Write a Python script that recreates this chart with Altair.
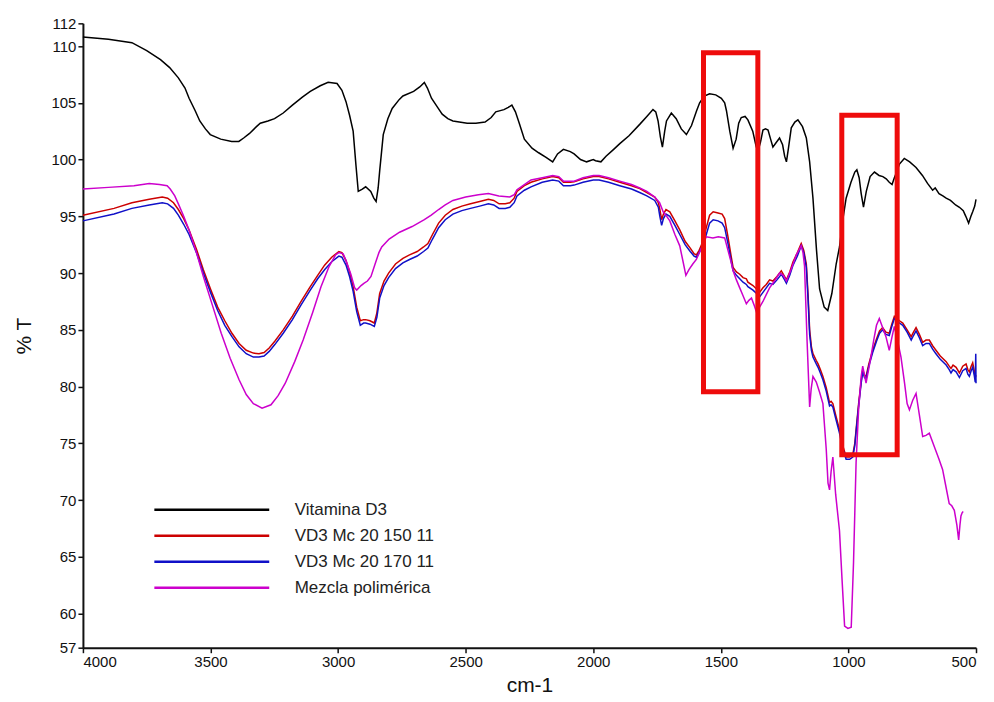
import altair as alt
import pandas as pd

# ---------------- data ----------------
series_names = ["Vitamina D3", "VD3 Mc 20 150 11", "VD3 Mc 20 170 11", "Mezcla polimérica"]
series_colors = ["#000000", "#cc0000", "#1010c8", "#cc00cc"]

wn_vd3 = [4000, 3900, 3808, 3750, 3696, 3660, 3626, 3600, 3584, 3560, 3542, 3520, 3501, 3460, 3417, 3389,
          3370, 3347, 3320, 3305, 3275, 3249, 3215, 3179, 3140, 3109, 3070, 3039, 3004, 2985, 2969, 2955,
          2941, 2930, 2921, 2905, 2892, 2872, 2860, 2851, 2843, 2837, 2823, 2805, 2788, 2760, 2746, 2704,
          2680, 2662, 2650, 2634, 2610, 2592, 2570, 2550, 2494, 2460, 2424, 2400, 2382, 2350, 2333, 2319,
          2305, 2290, 2270, 2240, 2214, 2185, 2159, 2140, 2117, 2090, 2075, 2050, 2026, 2000, 1991, 1970,
          1950, 1920, 1896, 1860, 1818, 1790, 1766, 1755, 1746, 1737, 1729, 1720, 1713, 1694, 1675, 1655,
          1635, 1615, 1595, 1583, 1565, 1544, 1520, 1498, 1485, 1478, 1465, 1452, 1440, 1430, 1420, 1405,
          1394, 1375, 1362, 1355, 1345, 1335, 1325, 1315, 1305, 1296, 1283, 1270, 1258, 1250, 1243, 1235,
          1224, 1210, 1198, 1180, 1165, 1152, 1139, 1125, 1113, 1095, 1081, 1065, 1048, 1035, 1020, 1009,
          990, 975, 967, 958, 950, 941, 930, 915, 898, 880, 865, 852, 840, 829, 820, 813,
          800, 781, 760, 735, 710, 690, 670, 660, 645, 630, 617, 600, 580, 565, 550, 540,
          529, 520, 513, 505, 500]
t_vd3 = [110.8, 110.6, 110.3, 109.6, 108.8, 108.1, 107.2, 106.3, 105.4, 104.3, 103.4, 102.7, 102.2, 101.8, 101.6, 101.6,
         101.9, 102.3, 102.9, 103.2, 103.4, 103.6, 104.1, 104.8, 105.5, 106.0, 106.5, 106.8, 106.7, 106.1, 105.1, 103.9,
         102.5, 99.5, 97.2, 97.4, 97.6, 97.2, 96.6, 96.3, 97.5, 99.0, 102.2, 103.6, 104.5, 105.3, 105.6, 106.0,
         106.4, 106.8, 106.3, 105.4, 104.6, 104.0, 103.6, 103.4, 103.2, 103.2, 103.3, 103.7, 104.2, 104.4, 104.6, 104.8,
         104.2, 103.2, 101.8, 101.0, 100.6, 100.2, 99.8, 100.5, 100.9, 100.7, 100.5, 100.0, 99.8, 100.0, 99.9, 99.8,
         100.3, 100.9, 101.4, 102.1, 103.1, 103.8, 104.4, 104.2, 103.4, 102.0, 101.1, 102.5, 103.4, 104.1, 103.6, 102.7,
         102.2, 103.0, 104.3, 105.0, 105.6, 105.8, 105.7, 105.4, 105.0, 104.3, 102.5, 101.0, 101.8, 103.2, 103.7, 103.8,
         103.5, 102.5, 101.2, 100.7, 101.5, 102.6, 102.7, 102.6, 101.8, 101.1, 101.5, 101.9, 101.3, 100.3, 99.8, 101.0,
         102.8, 103.3, 103.5, 102.9, 101.9, 99.8, 96.6, 92.0, 88.6, 87.0, 86.7, 88.2, 90.8, 92.3, 95.0, 96.6,
         98.0, 98.9, 99.1, 98.4, 97.0, 95.8, 97.2, 98.5, 98.9, 98.6, 98.5, 98.3, 98.0, 97.8, 98.4, 98.8,
         99.6, 100.1, 99.8, 99.3, 98.6, 97.9, 97.3, 97.5, 97.0, 96.8, 96.6, 96.4, 96.0, 95.8, 95.5, 95.0,
         94.4, 95.0, 95.4, 95.9, 96.5]

wn_150 = [4000, 3878, 3808, 3740, 3689, 3668, 3645, 3626, 3605, 3584, 3555, 3528, 3500, 3472, 3444, 3416,
          3388, 3360, 3332, 3310, 3290, 3270, 3248, 3215, 3179, 3145, 3109, 3080, 3053, 3025, 2997, 2985,
          2969, 2955, 2941, 2927, 2913, 2900, 2892, 2875, 2858, 2848, 2837, 2820, 2802, 2775, 2746, 2720,
          2690, 2665, 2648, 2630, 2606, 2580, 2550, 2515, 2481, 2445, 2411, 2390, 2369, 2345, 2327, 2310,
          2299, 2270, 2244, 2200, 2159, 2135, 2117, 2090, 2075, 2040, 2000, 1977, 1940, 1896, 1850, 1818,
          1790, 1759, 1745, 1739, 1732, 1725, 1715, 1700, 1680, 1661, 1640, 1620, 1605, 1596, 1585, 1570,
          1557, 1544, 1530, 1511, 1495, 1485, 1472, 1459, 1452, 1439, 1426, 1413, 1400, 1394, 1374, 1360,
          1348, 1335, 1322, 1309, 1296, 1280, 1263, 1250, 1243, 1230, 1217, 1200, 1185, 1175, 1165, 1158,
          1152, 1145, 1139, 1126, 1119, 1110, 1100, 1087, 1074, 1068, 1061, 1050, 1035, 1022, 1009, 995,
          983, 975, 970, 960, 950, 944, 937, 931, 920, 905, 890, 878, 866, 853, 840, 830,
          820, 810, 800, 787, 770, 754, 745, 735, 722, 709, 696, 683, 670, 657, 640, 617,
          605, 598, 590, 578, 565, 552, 539, 532, 526, 519, 513, 507, 503, 500]
t_150 = [95.1, 95.7, 96.2, 96.5, 96.7, 96.6, 96.2, 95.6, 94.8, 93.8, 92.1, 90.3, 88.6, 87.0, 85.8, 84.7,
         83.8, 83.2, 82.95, 82.9, 83.0, 83.4, 84.0, 85.0, 86.2, 87.5, 88.8, 89.8, 90.7, 91.4, 91.9, 91.8,
         91.1, 90.1, 88.8, 87.0, 85.8, 85.9, 85.9, 85.8, 85.6, 86.5, 88.2, 89.3, 90.0, 90.8, 91.3, 91.6,
         91.9, 92.3, 92.6, 93.4, 94.4, 95.1, 95.6, 95.9, 96.1, 96.3, 96.5, 96.4, 96.1, 96.1, 96.2, 96.6,
         97.2, 97.7, 98.0, 98.3, 98.5, 98.4, 98.0, 98.0, 98.05, 98.3, 98.5, 98.5, 98.3, 98.0, 97.7, 97.45,
         97.1, 96.7, 96.2, 95.6, 94.7, 95.2, 95.6, 95.4, 94.6, 93.8, 92.8, 92.2, 91.7, 91.6, 92.0, 92.8,
         94.0, 95.1, 95.4, 95.3, 95.2, 94.8, 93.2, 91.4, 90.5, 90.1, 89.9, 89.6, 89.5, 89.2, 88.9, 88.6,
         88.3, 88.7, 89.0, 89.4, 89.3, 89.7, 90.2, 89.7, 89.4, 90.1, 91.0, 91.8, 92.6, 92.0, 90.8, 88.0,
         85.0, 83.5, 82.9, 82.3, 82.0, 81.5, 80.9, 79.9, 78.6, 78.7, 78.5, 77.5, 76.2, 74.8, 73.8, 73.8,
         74.0, 75.0, 76.2, 78.5, 80.5, 81.5, 81.0, 80.9, 82.0, 83.2, 84.2, 84.9, 85.2, 84.8, 84.7, 85.5,
         86.2, 86.0, 85.8, 85.6, 85.0, 84.4, 84.8, 85.2, 84.6, 83.9, 84.1, 84.1, 83.6, 83.2, 82.7, 82.2,
         81.8, 81.6, 81.9, 81.7, 81.2, 81.8, 82.0, 81.5, 81.3, 81.8, 82.1, 81.4, 80.8, 81.0]

wn_170 = [4000, 3878, 3808, 3740, 3689, 3668, 3645, 3626, 3605, 3584, 3555, 3528, 3500, 3472, 3444, 3416,
          3388, 3360, 3332, 3310, 3290, 3270, 3248, 3215, 3179, 3145, 3109, 3080, 3053, 3025, 2997, 2985,
          2969, 2955, 2941, 2927, 2913, 2900, 2892, 2875, 2858, 2848, 2837, 2820, 2802, 2775, 2746, 2720,
          2690, 2665, 2648, 2630, 2606, 2580, 2550, 2515, 2481, 2445, 2411, 2390, 2369, 2345, 2327, 2310,
          2299, 2270, 2244, 2200, 2159, 2135, 2117, 2090, 2075, 2040, 2000, 1977, 1940, 1896, 1850, 1818,
          1790, 1759, 1745, 1739, 1732, 1725, 1715, 1700, 1680, 1661, 1640, 1620, 1605, 1596, 1585, 1570,
          1557, 1544, 1530, 1511, 1495, 1485, 1472, 1459, 1452, 1439, 1426, 1413, 1400, 1394, 1374, 1360,
          1348, 1335, 1322, 1309, 1296, 1280, 1263, 1250, 1243, 1230, 1217, 1200, 1185, 1175, 1165, 1158,
          1152, 1145, 1139, 1126, 1119, 1110, 1100, 1087, 1074, 1068, 1061, 1050, 1035, 1022, 1009, 995,
          983, 975, 970, 960, 950, 944, 937, 931, 920, 905, 890, 878, 866, 853, 840, 830,
          820, 810, 800, 787, 770, 754, 745, 735, 722, 709, 696, 683, 670, 657, 640, 617,
          605, 598, 590, 578, 565, 552, 539, 532, 526, 519, 513, 507, 503, 501, 500]
t_170 = [94.6, 95.2, 95.7, 96.0, 96.2, 96.1, 95.7, 95.1, 94.3, 93.4, 91.8, 90.0, 88.3, 86.7, 85.4, 84.4,
         83.5, 82.9, 82.6, 82.6, 82.7, 83.1, 83.7, 84.7, 85.9, 87.2, 88.5, 89.5, 90.3, 91.0, 91.5, 91.4,
         90.7, 89.7, 88.4, 86.6, 85.4, 85.6, 85.6, 85.5, 85.3, 86.1, 87.8, 88.9, 89.6, 90.4, 90.9, 91.2,
         91.5, 91.9, 92.2, 93.0, 94.0, 94.7, 95.2, 95.5, 95.7, 95.9, 96.1, 96.0, 95.7, 95.7, 95.8, 96.2,
         96.8, 97.3, 97.6, 98.0, 98.2, 98.1, 97.7, 97.7, 97.75, 98.0, 98.2, 98.2, 98.0, 97.7, 97.4, 97.1,
         96.8, 96.4, 95.8, 95.0, 94.2, 94.8, 95.2, 95.0, 94.2, 93.4, 92.5, 91.9, 91.5, 91.4, 91.8, 92.5,
         93.4, 94.4, 94.7, 94.6, 94.4, 94.0, 92.6, 91.0, 90.2, 89.8, 89.5, 89.2, 89.0, 88.8, 88.5, 88.2,
         87.9, 88.3, 88.7, 89.1, 89.0, 89.4, 89.9, 89.4, 89.1, 89.8, 90.7, 91.5, 92.4, 91.8, 90.5, 87.6,
         84.6, 83.2, 82.6, 82.0, 81.7, 81.2, 80.6, 79.6, 78.3, 78.4, 78.2, 77.2, 75.9, 74.5, 73.6, 73.6,
         73.8, 74.8, 76.0, 78.3, 80.3, 81.3, 80.8, 80.7, 81.8, 83.0, 84.0, 84.7, 85.0, 84.6, 84.5, 85.3,
         86.0, 85.8, 85.6, 85.4, 84.8, 84.1, 84.5, 84.9, 84.3, 83.6, 83.8, 83.8, 83.3, 82.9, 82.4, 81.9,
         81.5, 81.2, 81.5, 81.3, 80.8, 81.4, 81.6, 81.1, 80.9, 81.4, 81.7, 81.0, 80.4, 82.9, 80.3]

wn_mix = [4000, 3900, 3800, 3740, 3700, 3670, 3658, 3640, 3626, 3605, 3584, 3555, 3528, 3493, 3458, 3423,
          3388, 3360, 3332, 3298, 3263, 3235, 3207, 3170, 3137, 3100, 3067, 3035, 3010, 2997, 2980, 2969,
          2950, 2935, 2927, 2910, 2899, 2885, 2871, 2855, 2840, 2829, 2800, 2759, 2710, 2662, 2635, 2606,
          2580, 2550, 2500, 2450, 2411, 2370, 2327, 2310, 2299, 2270, 2244, 2200, 2159, 2135, 2117, 2090,
          2075, 2040, 2000, 1977, 1940, 1896, 1850, 1818, 1790, 1759, 1740, 1726, 1712, 1700, 1680, 1661,
          1648, 1637, 1625, 1610, 1596, 1580, 1557, 1531, 1510, 1485, 1472, 1460, 1452, 1439, 1426, 1413,
          1400, 1390, 1380, 1370, 1361, 1348, 1335, 1322, 1309, 1290, 1270, 1255, 1243, 1225, 1204, 1185,
          1178, 1172, 1162, 1152, 1146, 1139, 1126, 1113, 1100, 1087, 1080, 1074, 1068, 1061, 1050, 1035,
          1025, 1015, 1002, 989, 980, 970, 960, 950, 944, 937, 931, 920, 912, 900, 890, 879,
          866, 853, 840, 830, 820, 807, 794, 780, 770, 761, 748, 735, 722, 709, 696, 683,
          660, 645, 631, 618, 605, 595, 585, 575, 568, 563, 559, 554, 550]
t_mix = [97.4, 97.55, 97.7, 97.9, 97.8, 97.7, 97.4, 96.8, 96.1, 95.0, 93.8, 91.8, 89.7, 87.2, 84.7, 82.5,
         80.6, 79.3, 78.5, 78.1, 78.4, 79.2, 80.3, 82.2, 84.1, 86.5, 88.8, 90.6, 91.6, 91.8, 91.7, 91.1,
         89.9, 88.7, 88.5, 88.9, 89.1, 89.3, 89.7, 90.8, 91.8, 92.3, 93.0, 93.6, 94.1, 94.7, 95.1, 95.6,
         96.0, 96.4, 96.7, 96.9, 97.0, 96.8, 96.7, 96.9, 97.35, 97.8, 98.2, 98.4, 98.6, 98.5, 98.1, 98.1,
         98.1, 98.4, 98.6, 98.6, 98.4, 98.1, 97.8, 97.5, 97.2, 96.7, 96.2, 95.4, 95.0, 94.6, 93.4, 92.4,
         91.0, 89.8, 90.3, 90.8, 91.2, 92.0, 93.2, 93.1, 93.2, 93.1, 92.0, 91.0, 90.2, 89.4, 88.7, 88.0,
         87.3, 87.6, 87.8, 87.2, 86.6, 87.0, 87.5, 88.1, 88.7, 89.3, 90.0, 89.8, 89.3, 90.3, 91.6, 92.4,
         91.8, 90.6, 84.0, 78.2, 79.8, 80.9, 80.4, 79.5, 78.5, 74.5, 71.5, 70.9, 72.5, 73.8, 70.5, 67.3,
         63.0, 58.9, 58.7, 58.8, 64.5, 73.3, 78.0, 80.9, 81.8, 81.0, 80.3, 81.6, 82.6, 84.2, 85.4, 86.0,
         85.2, 84.4, 83.2, 84.3, 85.3, 84.0, 82.6, 80.3, 78.5, 77.95, 78.8, 79.4, 77.5, 75.6, 75.7, 75.9,
         74.5, 73.6, 72.7, 71.2, 69.7, 69.5, 69.1, 67.8, 66.5, 67.8, 68.6, 68.9, 69.0]

# highlighted regions (red boxes)
box_left = [1568, 1026]
box_right = [1355, 809]
box_top = [109.4, 103.9]
box_bottom = [79.55, 74.0]

x_ticks = [4000, 3500, 3000, 2500, 2000, 1500, 1000, 500]
y_ticks = [57, 60, 65, 70, 75, 80, 85, 90, 95, 100, 105, 110, 112]

# ---------------- build tables ----------------
frames = []
for name, wn, tv in [(series_names[0], wn_vd3, t_vd3), (series_names[1], wn_150, t_150),
                     (series_names[2], wn_170, t_170), (series_names[3], wn_mix, t_mix)]:
    frames.append(pd.DataFrame({"wn": wn, "t": tv, "series": name}))
df = pd.concat(frames, ignore_index=True)
df_box = pd.DataFrame({"x1": box_left, "x2": box_right, "y1": box_top, "y2": box_bottom})

FONT = "Liberation Sans, Arial, sans-serif"

xscale = alt.Scale(domain=[500, 4000], reverse=True, nice=False, zero=False)
yscale = alt.Scale(domain=[57, 112], nice=False, zero=False)

lines = alt.Chart(df).mark_line(strokeWidth=1.5).encode(
    x=alt.X("wn:Q", scale=xscale,
            axis=alt.Axis(values=x_ticks, title="cm-1", format="d", grid=False)),
    y=alt.Y("t:Q", scale=yscale,
            axis=alt.Axis(values=y_ticks, title="% T", format="d", grid=False)),
    color=alt.Color("series:N",
                    scale=alt.Scale(domain=series_names, range=series_colors),
                    legend=alt.Legend(title=None, orient="none", legendX=70, legendY=480,
                                      symbolType="stroke", symbolSize=13225,
                                      symbolStrokeWidth=2.5, labelFontSize=17,
                                      labelFont=FONT, labelColor="#222222",
                                      labelOffset=24, clipHeight=14, rowPadding=9,
                                      padding=0)),
    detail="series:N",
    order="wn:Q",
)

boxes = alt.Chart(df_box).mark_rect(fillOpacity=0, stroke="#ee0c0c", strokeWidth=5).encode(
    x="x1:Q", x2="x2:Q", y="y1:Q", y2="y2:Q"
)

chart = alt.layer(lines, boxes).properties(
    width=894, height=625,
    autosize=alt.AutoSizeParams(type="none"),
    padding={"left": 75, "top": 15, "right": 10, "bottom": 53},
).configure_view(stroke=None).configure_axis(
    domainColor="#111111", domainWidth=2, tickColor="#111111", tickWidth=1.5, tickSize=5,
    labelFont=FONT, labelFontSize=15, labelColor="#111111", labelPadding=2,
    titleFont=FONT, titleFontSize=21, titleFontWeight="normal", titleColor="#111111",
).configure_axisX(titlePadding=5).configure_axisY(titlePadding=16)

chart.save("out.html", embed_options={"renderer": "svg", "actions": False})
